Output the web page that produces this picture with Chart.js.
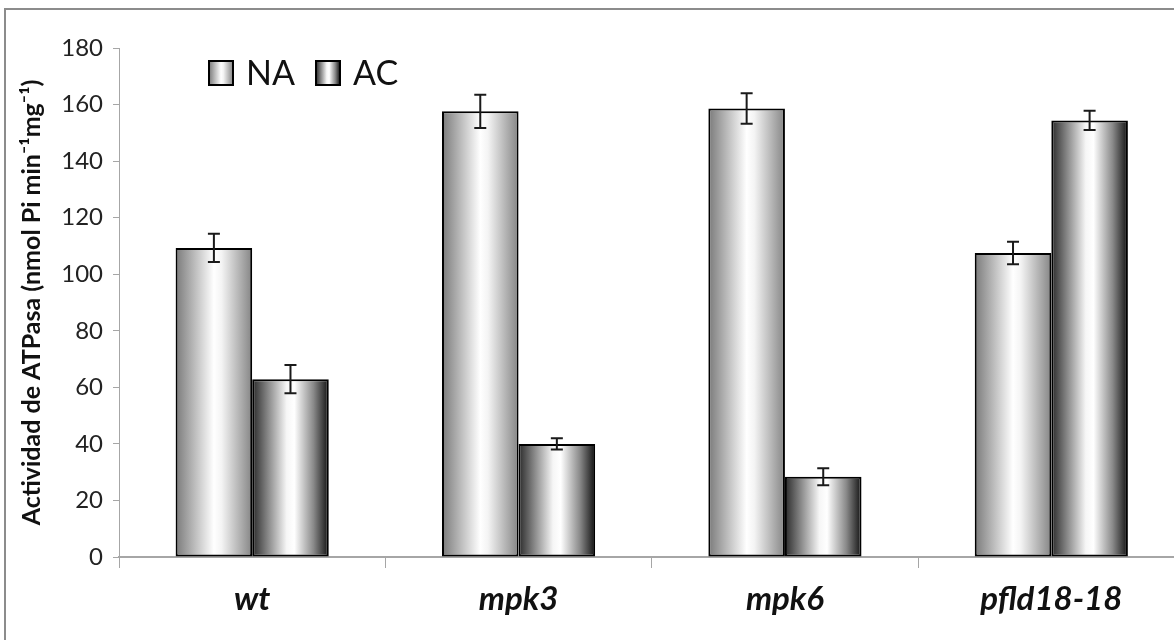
<!DOCTYPE html>
<html lang="es">
<head>
    <meta charset="UTF-8">
    <title>Actividad de ATPasa</title>
    <script src="https://cdn.jsdelivr.net/npm/chart.js"></script>
    <style>
        body, html {
            margin: 0;
            padding: 0;
            background: #fff;
            overflow: hidden;
        }
        .wrap {
            width: 1200px;
            height: 640px;
        }
    </style>
</head>
<body>
    <div class="wrap">
        <canvas id="atpChart"></canvas>
    </div>

    <script>
        // datos
        const genotypes = ['wt', 'mpk3', 'mpk6', 'pfld18-18'];
        const naValues = [109.3, 157.6, 158.6, 107.5];
        const naErrors = [5, 5.9, 5.4, 4];
        const acValues = [62.9, 40, 28.4, 154.4];
        const acErrors = [5, 2, 3, 3.4];
        const yTicks = [0, 20, 40, 60, 80, 100, 120, 140, 160, 180];

        const FONT = 'Lato, "Open Sans", sans-serif';

        // degradados horizontales de cada barra
        function fillNA(ctx, x0, x1) {
            const g = ctx.createLinearGradient(x0, 0, x1, 0);
            g.addColorStop(0, '#7a7a7a');
            g.addColorStop(0.5, '#ffffff');
            g.addColorStop(0.6, '#f4f4f4');
            g.addColorStop(1, '#858585');
            return g;
        }

        function fillAC(ctx, x0, x1) {
            const g = ctx.createLinearGradient(x0, 0, x1, 0);
            g.addColorStop(0, '#2a2a2a');
            g.addColorStop(0.45, '#f6f6f6');
            g.addColorStop(0.55, '#ffffff');
            g.addColorStop(0.8, '#8a8a8a');
            g.addColorStop(1, '#111111');
            return g;
        }

        const fills = [fillNA, fillAC];
        const errors = [naErrors, acErrors];

        const gradientBars = {
            id: 'gradientBars',
            beforeDraw(chart) {
                const ctx = chart.ctx;
                ctx.save();
                ctx.strokeStyle = '#8c8c8c';
                ctx.lineWidth = 2;
                ctx.strokeRect(5, 9, 2000, 2000);
                ctx.restore();
            },
            beforeDatasetsDraw(chart) {
                const ctx = chart.ctx;
                chart.data.datasets.forEach((ds, i) => {
                    chart.getDatasetMeta(i).data.forEach(bar => {
                        const x0 = bar.x - bar.width / 2;
                        const x1 = bar.x + bar.width / 2;
                        bar.options = Object.assign({}, bar.options, {
                            backgroundColor: fills[i](ctx, x0, x1)
                        });
                    });
                });
            }
        };

        const errorBars = {
            id: 'errorBars',
            afterDatasetsDraw(chart) {
                const ctx = chart.ctx;
                const y = chart.scales.y;
                ctx.save();
                ctx.strokeStyle = '#1a1a1a';
                ctx.lineWidth = 2;
                chart.data.datasets.forEach((ds, i) => {
                    chart.getDatasetMeta(i).data.forEach((bar, j) => {
                        const v = ds.data[j];
                        const e = errors[i][j];
                        const top = y.getPixelForValue(v + e);
                        const bot = y.getPixelForValue(v - e);
                        ctx.beginPath();
                        ctx.moveTo(bar.x, top);
                        ctx.lineTo(bar.x, bot);
                        ctx.moveTo(bar.x - 6, top);
                        ctx.lineTo(bar.x + 6, top);
                        ctx.moveTo(bar.x - 6, bot);
                        ctx.lineTo(bar.x + 6, bot);
                        ctx.stroke();
                    });
                });
                ctx.restore();
            }
        };

        // leyenda dentro del area del grafico
        const insideLegend = {
            id: 'insideLegend',
            afterDraw(chart) {
                const ctx = chart.ctx;
                const items = [
                    { label: 'NA', x: 209 },
                    { label: 'AC', x: 316 }
                ];
                ctx.save();
                ctx.font = '34px ' + FONT;
                ctx.textBaseline = 'alphabetic';
                ctx.fillStyle = '#111';
                items.forEach((it, i) => {
                    const sx = it.x, sy = 61, s = 24;
                    ctx.fillStyle = fills[i](ctx, sx, sx + s);
                    ctx.fillRect(sx, sy, s, s);
                    ctx.strokeStyle = '#000';
                    ctx.lineWidth = 2;
                    ctx.strokeRect(sx, sy, s, s);
                    ctx.fillStyle = '#111';
                    ctx.fillText(chart.data.datasets[i].label, sx + s + 13, 85);
                });
                ctx.restore();
            }
        };

        new Chart(document.getElementById('atpChart').getContext('2d'), {
            type: 'bar',
            data: {
                labels: genotypes,
                datasets: [{
                    label: 'NA',
                    data: naValues,
                    backgroundColor: '#cccccc',
                    borderColor: '#000',
                    borderWidth: 2,
                    borderSkipped: false,
                    categoryPercentage: 0.575,
                    barPercentage: 1.0
                }, {
                    label: 'AC',
                    data: acValues,
                    backgroundColor: '#999999',
                    borderColor: '#000',
                    borderWidth: 2,
                    borderSkipped: false,
                    categoryPercentage: 0.575,
                    barPercentage: 1.0
                }]
            },
            options: {
                responsive: true,
                maintainAspectRatio: false,
                animation: false,
                layout: {
                    padding: { top: 48, right: 15.5, bottom: 0, left: 0 }
                },
                plugins: {
                    legend: { display: false },
                    tooltip: { enabled: false }
                },
                scales: {
                    x: {
                        afterFit(scale) { scale.height = 83; },
                        grid: {
                            offset: true,
                            drawOnChartArea: false,
                            tickLength: 11,
                            color: '#a6a6a6',
                            lineWidth: 1
                        },
                        border: { color: '#a6a6a6', width: 2 },
                        ticks: {
                            padding: 12,
                            color: '#111',
                            font: { family: FONT, size: 33, weight: 'bold', style: 'italic' }
                        }
                    },
                    y: {
                        min: 0,
                        max: 180,
                        afterFit(scale) { scale.width = 119; },
                        afterBuildTicks(scale) {
                            scale.ticks = yTicks.map(v => ({ value: v }));
                        },
                        grid: {
                            drawOnChartArea: false,
                            tickLength: 6,
                            color: '#a6a6a6'
                        },
                        border: { color: '#a6a6a6', width: 1 },
                        ticks: {
                            padding: 10,
                            color: '#222',
                            font: { family: FONT, size: 24 }
                        },
                        title: {
                            display: true,
                            text: 'Actividad de ATPasa (nmol Pi min\u207B\u00B9mg\u207B\u00B9)',
                            color: '#111',
                            padding: { top: 17, bottom: 0 },
                            font: { family: FONT, size: 25, weight: 'bold' }
                        }
                    }
                }
            },
            plugins: [gradientBars, errorBars, insideLegend]
        });
    </script>
</body>
</html>
